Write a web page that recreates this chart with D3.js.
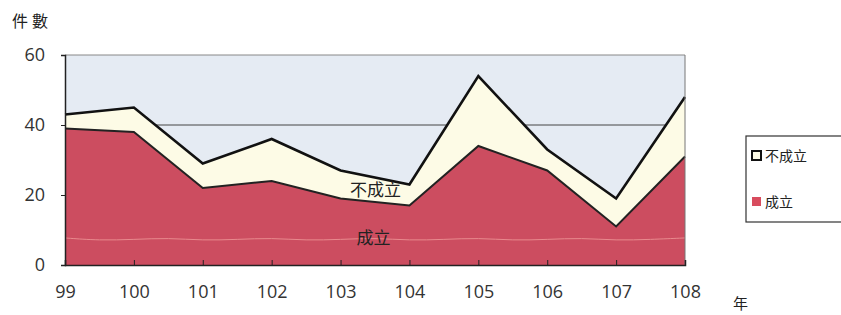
<!DOCTYPE html>
<html>
<head>
<meta charset="utf-8">
<script src="https://cdn.jsdelivr.net/npm/d3@7"></script>
<style>
  body { margin: 0; background: #fff; }
  svg { display: block; }
  .tick text { font-family: "Open Sans", "DejaVu Sans", sans-serif; font-size: 18px; fill: #333; }
  .cjk { font-family: "Noto Sans CJK TC", "Noto Sans CJK SC", serif; fill: #222; }
</style>
</head>
<body>
<div id="chart"></div>
<script>
// ── 資料 ──
const years     = ['99', '100', '101', '102', '103', '104', '105', '106', '107', '108'];
const chengli   = [39, 38, 22, 24, 19, 17, 34, 27, 11, 31];   // 成立
const buChengli = [4, 7, 7, 12, 8, 6, 20, 6, 8, 17];          // 不成立
const yTicks    = [0, 20, 40, 60];

const W = 841, H = 315;
const m = { left: 65, right: 156, top: 55, bottom: 50 };

const svg = d3.select('#chart').append('svg').attr('width', W).attr('height', H);

const x = d3.scalePoint().domain(years).range([m.left, W - m.right]);
const y = d3.scaleLinear().domain([0, 60]).range([H - m.bottom, m.top]);

const rows = years.map((yr, i) => ({ yr, a: chengli[i], b: buChengli[i] }));

// ── 背景 ──
svg.append('rect')
  .attr('x', m.left).attr('y', y(60))
  .attr('width', x('108') - m.left).attr('height', y(0) - y(60))
  .attr('fill', '#e5ebf3');

// 格線
svg.append('line')
  .attr('x1', m.left).attr('x2', x('108'))
  .attr('y1', y(40)).attr('y2', y(40))
  .attr('stroke', '#444').attr('stroke-width', 1);
svg.append('line')
  .attr('x1', m.left).attr('x2', x('108'))
  .attr('y1', y(60)).attr('y2', y(60))
  .attr('stroke', '#888').attr('stroke-width', 1);

// ── 面積 ──
const areaTop = d3.area()
  .x(d => x(d.yr)).y0(d => y(d.a)).y1(d => y(d.a + d.b));
const areaBot = d3.area()
  .x(d => x(d.yr)).y0(y(0)).y1(d => y(d.a));

svg.append('path').datum(rows).attr('d', areaTop).attr('fill', '#fdfbe6');
svg.append('path').datum(rows).attr('d', areaBot).attr('fill', '#cc4d60');

// 紋理線（掃描痕跡）
const wave = d3.range(0, 9.01, 0.5);
svg.append('path').datum(wave)
  .attr('d', d3.line()
    .x(t => m.left + t * (x('100') - x('99')))
    .y((t, i) => y(7.3) + (i % 3 === 0 ? -1.5 : i % 3 === 1 ? 1 : 0))
    .curve(d3.curveBasis))
  .attr('fill', 'none').attr('stroke', '#e98a8e').attr('stroke-width', 1);

// 邊線
svg.append('path').datum(rows)
  .attr('d', d3.line().x(d => x(d.yr)).y(d => y(d.a + d.b)))
  .attr('fill', 'none').attr('stroke', '#111').attr('stroke-width', 2.6);
svg.append('path').datum(rows)
  .attr('d', d3.line().x(d => x(d.yr)).y(d => y(d.a)))
  .attr('fill', 'none').attr('stroke', '#222').attr('stroke-width', 2);

// 右邊框
svg.append('line')
  .attr('x1', x('108')).attr('x2', x('108'))
  .attr('y1', y(60)).attr('y2', y(0))
  .attr('stroke', '#777').attr('stroke-width', 1);

// ── 軸 ──
const yAxis = svg.append('g').attr('transform', `translate(${m.left},0)`)
  .call(d3.axisLeft(y).tickValues(yTicks).tickSize(4).tickPadding(16));
yAxis.select('.domain').attr('stroke', '#222').attr('stroke-width', 1.5);
yAxis.selectAll('.tick line').attr('stroke', '#222');

const xAxis = svg.append('g').attr('transform', `translate(0,${y(0)})`)
  .call(d3.axisBottom(x).tickSize(-5).tickPadding(20));
xAxis.select('.domain').attr('stroke', '#222').attr('stroke-width', 1.5);
xAxis.selectAll('.tick line').attr('stroke', '#222');

// ── 文字 ──
svg.append('text').attr('class', 'cjk').attr('x', 12).attr('y', 27)
  .attr('font-size', 16).attr('letter-spacing', 4).text('件數');
svg.append('text').attr('class', 'cjk').attr('x', 733).attr('y', 309)
  .attr('font-size', 15).text('年');

svg.append('text').attr('class', 'cjk').attr('x', x('103') + 35).attr('y', y(20) + 1)
  .attr('text-anchor', 'middle').attr('font-size', 17).text('不成立');
svg.append('text').attr('class', 'cjk').attr('x', x('103') + 33).attr('y', y(7.5) + 5)
  .attr('text-anchor', 'middle').attr('font-size', 17).text('成立');

// ── 圖例 ──
const lg = svg.append('g').attr('transform', 'translate(746,136)');
lg.append('rect').attr('width', 100).attr('height', 86)
  .attr('fill', '#fff').attr('stroke', '#333').attr('stroke-width', 1.2);
lg.append('rect').attr('x', 6).attr('y', 15).attr('width', 9).attr('height', 9)
  .attr('fill', '#fdfbe6').attr('stroke', '#111').attr('stroke-width', 2);
lg.append('text').attr('class', 'cjk').attr('x', 19).attr('y', 25)
  .attr('font-size', 14).attr('fill', '#666').text('不成立');
lg.append('rect').attr('x', 6).attr('y', 61).attr('width', 9).attr('height', 9)
  .attr('fill', '#d84c5e');
lg.append('text').attr('class', 'cjk').attr('x', 19).attr('y', 71)
  .attr('font-size', 14).attr('fill', '#666').text('成立');
</script>
</body>
</html>
